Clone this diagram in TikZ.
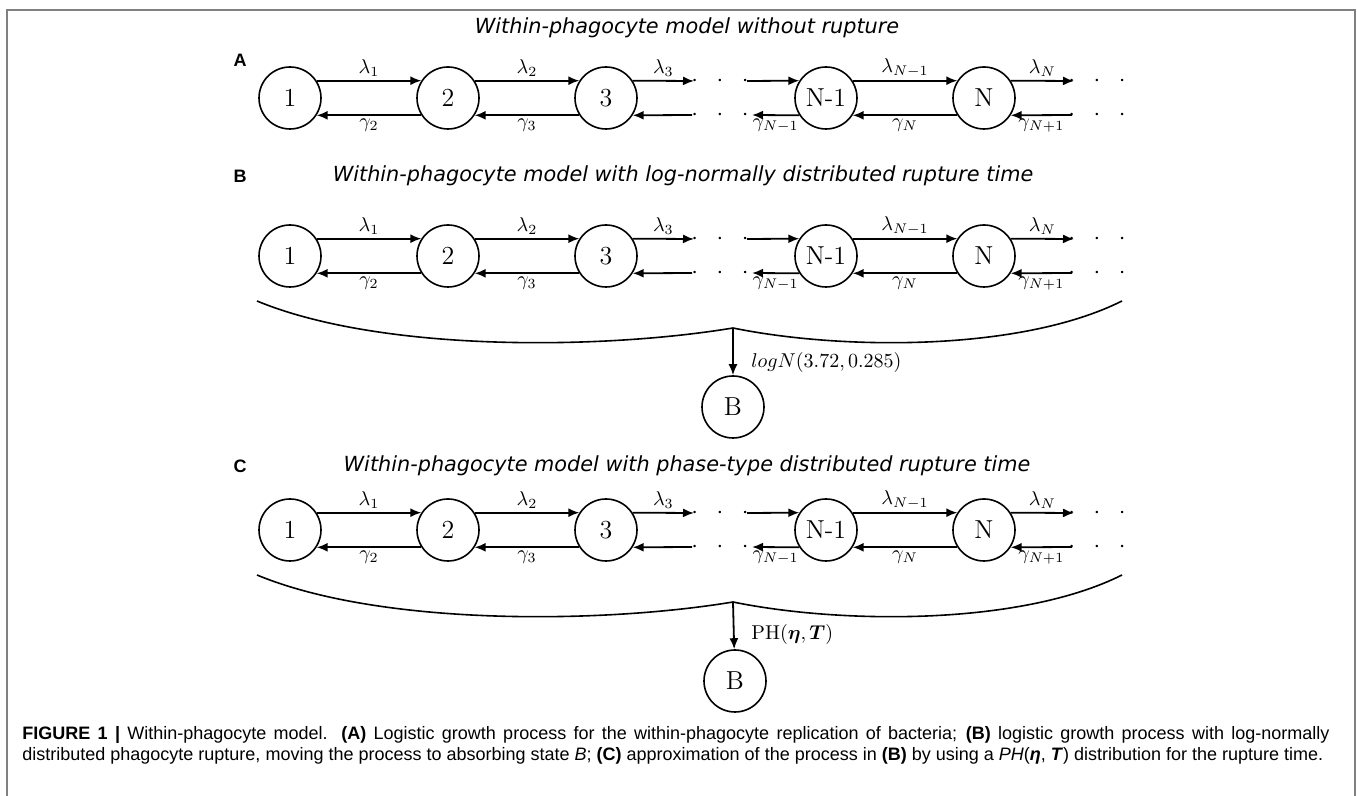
\documentclass[tikz,border=0pt]{standalone}
\usepackage{amsmath}
\usepackage{amssymb}
\usepackage{fontspec}
\newfontfamily\titlefont{DejaVu Sans}
\newfontfamily\capfont{Liberation Sans}
\usetikzlibrary{shapes.geometric, arrows.meta}
\usetikzlibrary{positioning}

\tikzset{
  state/.style={draw, circle, line width=0.8pt, minimum size=31pt, inner sep=0pt, font=\fontsize{13}{13}\selectfont},
  rate/.style={-{Latex[length=5.5pt,width=4.5pt]}, line width=0.9pt},
  lab/.style={font=\fontsize{10}{12}\selectfont, inner sep=1.5pt},
  title/.style={font=\titlefont\itshape\fontsize{10.4}{12}\selectfont},
  panel/.style={font=\capfont\bfseries\fontsize{9}{10}\selectfont},
  capt/.style={font=\capfont\fontsize{9}{11}\selectfont, inner sep=0pt},
  dots/.style={inner sep=0pt, font=\fontsize{12}{12}\selectfont}
}

\begin{document}
\begin{tikzpicture}[x=0.5pt, y=-0.5pt]
  \useasboundingbox (0,0) rectangle (1357,796);
  \draw[gray, line width=0.8pt] (7,796) -- (7,10) -- (1355,10) -- (1355,796);

  % A
  \node (ta) [title] at (687,28) {Within-phagocyte model without rupture};
  \node (la) [panel] at (240,60) {A};

  \node (a1)  [state] at (290,98) {1};
  \node (a2)  [state] at (448,98) {2};
  \node (a3)  [state] at (606,98) {3};
  \node (an1) [state] at (826,98) {N-1};
  \node (an)  [state] at (984,98) {N};
  \coordinate (a3o) at (694,81);
  \coordinate (a3i) at (692,115);
  \coordinate (an1i) at (747,81);
  \coordinate (an1o) at (752,115);
  \coordinate (ano) at (1074,81);
  \coordinate (ani) at (1072,115);
  \node (ad1) [dots] at (720,81) {$\cdot\;\;\cdot\;\;\cdot$};
  \node (ad2) [dots] at (720,115) {$\cdot\;\;\cdot\;\;\cdot$};
  \node (ad3) [dots] at (1097,81) {$\cdot\;\;\cdot\;\;\cdot$};
  \node (ad4) [dots] at (1097,115) {$\cdot\;\;\cdot\;\;\cdot$};

  \draw[rate] (a1.33) -- (a2.147) node[lab, midway, above] {$\lambda_1$};
  \draw[rate] (a2.-147) -- (a1.-33) node[lab, midway, below] {$\gamma_2$};
  \draw[rate] (a2.33) -- (a3.147) node[lab, midway, above] {$\lambda_2$};
  \draw[rate] (a3.-147) -- (a2.-33) node[lab, midway, below] {$\gamma_3$};
  \draw[rate] (a3.33) -- (a3o) node[lab, midway, above] {$\lambda_3$};
  \draw[rate] (a3i) -- (a3.-33);
  \draw[rate] (an1i) -- (an1.147);
  \draw[rate] (an1.-147) -- (an1o) node[lab, midway, below] {$\gamma_{N-1}$};
  \draw[rate] (an1.33) -- (an.147) node[lab, midway, above] {$\lambda_{N-1}$};
  \draw[rate] (an.-147) -- (an1.-33) node[lab, midway, below] {$\gamma_N$};
  \draw[rate] (an.33) -- (ano) node[lab, midway, above] {$\lambda_N$};
  \draw[rate] (ani) -- (an.-33) node[lab, midway, below] {$\gamma_{N+1}$};

  % B
  \node (tb) [title] at (683,176) {Within-phagocyte model with log-normally distributed rupture time};
  \node (lb) [panel] at (240,176) {B};

  \node (b1)  [state] at (290,256) {1};
  \node (b2)  [state] at (448,256) {2};
  \node (b3)  [state] at (606,256) {3};
  \node (bn1) [state] at (826,256) {N-1};
  \node (bn)  [state] at (984,256) {N};
  \coordinate (b3o) at (694,239);
  \coordinate (b3i) at (692,273);
  \coordinate (bn1i) at (747,239);
  \coordinate (bn1o) at (752,273);
  \coordinate (bno) at (1074,239);
  \coordinate (bni) at (1072,273);
  \node (bd1) [dots] at (720,239) {$\cdot\;\;\cdot\;\;\cdot$};
  \node (bd2) [dots] at (720,273) {$\cdot\;\;\cdot\;\;\cdot$};
  \node (bd3) [dots] at (1097,239) {$\cdot\;\;\cdot\;\;\cdot$};
  \node (bd4) [dots] at (1097,273) {$\cdot\;\;\cdot\;\;\cdot$};

  \draw[rate] (b1.33) -- (b2.147) node[lab, midway, above] {$\lambda_1$};
  \draw[rate] (b2.-147) -- (b1.-33) node[lab, midway, below] {$\gamma_2$};
  \draw[rate] (b2.33) -- (b3.147) node[lab, midway, above] {$\lambda_2$};
  \draw[rate] (b3.-147) -- (b2.-33) node[lab, midway, below] {$\gamma_3$};
  \draw[rate] (b3.33) -- (b3o) node[lab, midway, above] {$\lambda_3$};
  \draw[rate] (b3i) -- (b3.-33);
  \draw[rate] (bn1i) -- (bn1.147);
  \draw[rate] (bn1.-147) -- (bn1o) node[lab, midway, below] {$\gamma_{N-1}$};
  \draw[rate] (bn1.33) -- (bn.147) node[lab, midway, above] {$\lambda_{N-1}$};
  \draw[rate] (bn.-147) -- (bn1.-33) node[lab, midway, below] {$\gamma_N$};
  \draw[rate] (bn.33) -- (bno) node[lab, midway, above] {$\lambda_N$};
  \draw[rate] (bni) -- (bn.-33) node[lab, midway, below] {$\gamma_{N+1}$};

  \coordinate (bbl) at (257,301);
  \coordinate (bbt) at (733,328);
  \coordinate (bbr) at (1122,301);
  \draw[line width=0.8pt] (bbl) .. controls (380,352) and (600,350) .. (bbt)
                                .. controls (840,350) and (1020,352) .. (bbr);
  \node (bB) [state] at (733,407) {B};
  \draw[rate] (bbt) -- (bB);
  \node (bpl) [lab, anchor=west] at (748,363) {$logN(3.72, 0.285)$};

  % C
  \node (tc) [title] at (687,466) {Within-phagocyte model with phase-type distributed rupture time};
  \node (lc) [panel] at (240,466) {C};

  \node (c1)  [state] at (290,530) {1};
  \node (c2)  [state] at (448,530) {2};
  \node (c3)  [state] at (606,530) {3};
  \node (cn1) [state] at (826,530) {N-1};
  \node (cn)  [state] at (984,530) {N};
  \coordinate (c3o) at (694,513);
  \coordinate (c3i) at (692,547);
  \coordinate (cn1i) at (747,513);
  \coordinate (cn1o) at (752,547);
  \coordinate (cno) at (1074,513);
  \coordinate (cni) at (1072,547);
  \node (cd1) [dots] at (720,513) {$\cdot\;\;\cdot\;\;\cdot$};
  \node (cd2) [dots] at (720,547) {$\cdot\;\;\cdot\;\;\cdot$};
  \node (cd3) [dots] at (1097,513) {$\cdot\;\;\cdot\;\;\cdot$};
  \node (cd4) [dots] at (1097,547) {$\cdot\;\;\cdot\;\;\cdot$};

  \draw[rate] (c1.33) -- (c2.147) node[lab, midway, above] {$\lambda_1$};
  \draw[rate] (c2.-147) -- (c1.-33) node[lab, midway, below] {$\gamma_2$};
  \draw[rate] (c2.33) -- (c3.147) node[lab, midway, above] {$\lambda_2$};
  \draw[rate] (c3.-147) -- (c2.-33) node[lab, midway, below] {$\gamma_3$};
  \draw[rate] (c3.33) -- (c3o) node[lab, midway, above] {$\lambda_3$};
  \draw[rate] (c3i) -- (c3.-33);
  \draw[rate] (cn1i) -- (cn1.147);
  \draw[rate] (cn1.-147) -- (cn1o) node[lab, midway, below] {$\gamma_{N-1}$};
  \draw[rate] (cn1.33) -- (cn.147) node[lab, midway, above] {$\lambda_{N-1}$};
  \draw[rate] (cn.-147) -- (cn1.-33) node[lab, midway, below] {$\gamma_N$};
  \draw[rate] (cn.33) -- (cno) node[lab, midway, above] {$\lambda_N$};
  \draw[rate] (cni) -- (cn.-33) node[lab, midway, below] {$\gamma_{N+1}$};

  \coordinate (cbl) at (257,575);
  \coordinate (cbt) at (733,602);
  \coordinate (cbr) at (1122,575);
  \draw[line width=0.8pt] (cbl) .. controls (380,626) and (600,624) .. (cbt)
                                .. controls (840,624) and (1020,626) .. (cbr);
  \node (cB) [state] at (735,681) {B};
  \draw[rate] (cbt) -- (cB);
  \node (cpl) [lab, anchor=west] at (748,635) {$\mathrm{PH}(\boldsymbol{\eta}, \boldsymbol{T})$};

  % caption
  \node (cap1) [capt, anchor=base west] at (22,740) {\makebox[653.5pt][s]{\textbf{FIGURE 1 |} Within-phagocyte model. \textbf{(A)} Logistic growth process for the within-phagocyte replication of bacteria; \textbf{(B)} logistic growth process with log-normally}};
  \node (cap2) [capt, anchor=base west] at (22,761) {distributed phagocyte rupture, moving the process to absorbing state \textit{B}; \textbf{(C)} approximation of the process in \textbf{(B)} by using a \textit{PH}(\textbf{\textit{η}}, \textbf{\textit{T}}) distribution for the rupture time.};
\end{tikzpicture}
\end{document}
